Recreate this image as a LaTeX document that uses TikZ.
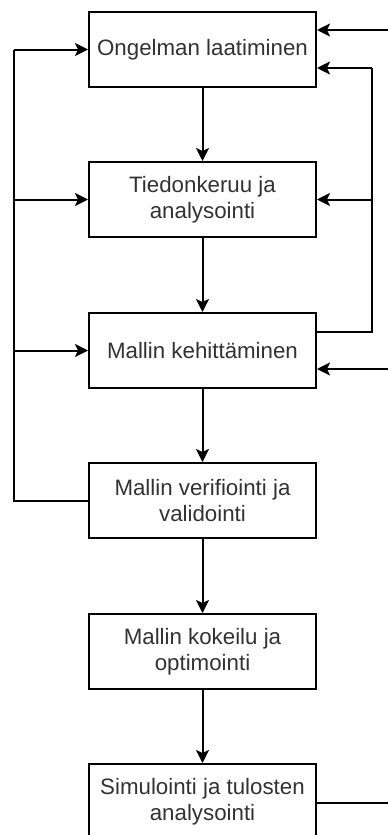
\documentclass[tikz,border=0pt]{standalone}
\usepackage{fontspec}
\setmainfont{Liberation Sans}
\usetikzlibrary{arrows.meta}
\definecolor{txt}{RGB}{50,50,50}
\tikzset{
  stepbox/.style={draw=black, line width=2pt, minimum width=227pt, minimum height=75pt,
    inner sep=0pt, align=center, font=\fontsize{22.3}{25.5}\selectfont, text=txt},
  conn/.style={draw=black, line width=2pt, -{Stealth[length=13pt,width=13pt,inset=3pt]}},
  line/.style={draw=black, line width=2pt}
}
\begin{document}
\begin{tikzpicture}[x=1pt,y=-1pt]
\useasboundingbox (0,0) rectangle (388,835);
\clip (0,0) rectangle (388,835);
\node[stepbox] (b1) at (202.5,49.5) {Ongelman laatiminen};
\node[stepbox] (b2) at (202.5,199.5) {Tiedonkeruu ja\\analysointi};
\node[stepbox] (b3) at (202.5,350.5) {Mallin kehittäminen};
\node[stepbox] (b4) at (202.5,500.5) {Mallin verifiointi ja\\validointi};
\node[stepbox] (b5) at (202.5,651.5) {Mallin kokeilu ja\\optimointi};
\node[stepbox] (b6) at (202.5,801.5) {Simulointi ja tulosten\\analysointi};
% main flow
\draw[conn] (b1) -- (b2);
\draw[conn] (b2) -- (b3);
\draw[conn] (b3) -- (b4);
\draw[conn] (b4) -- (b5);
\draw[conn] (b5) -- (b6);
% left feedback
\coordinate (lx) at (14,0);
\draw[line] (b4.west) -| (lx |- b1.west);
\draw[conn] (lx |- b1.west) -- (b1.west);
\draw[conn] (lx |- b2.west) -- (b2.west);
\draw[conn] (lx |- b3.west) -- (b3.west);
% right feedback
\coordinate (rx) at (372,0);
\coordinate (b3out) at ([yshift=18.5pt]b3.east);
\coordinate (b1in) at ([yshift=-18.5pt]b1.east);
\draw[line] (b3out) -| (rx |- b1in);
\draw[conn] (rx |- b1in) -- (b1in);
\draw[conn] (rx |- b2.east) -- (b2.east);
% incoming from outside
\coordinate (e1) at (392,30);
\coordinate (e3) at (392,369);
\coordinate (e6) at (392,803);
\draw[conn] (e1) -- (b1.east |- e1);
\draw[conn] (e3) -- (b3.east |- e3);
\draw[line] (b6.east |- e6) -- (e6);
\end{tikzpicture}
\end{document}
